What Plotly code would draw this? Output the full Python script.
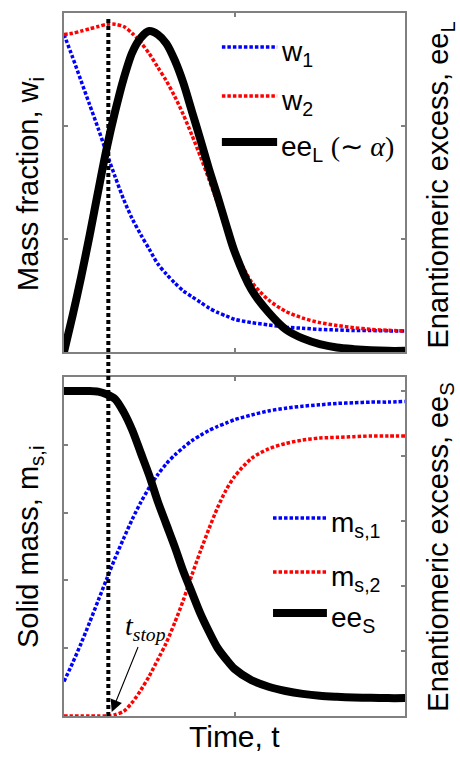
import plotly.graph_objects as go

# ---------------- data ----------------
t = [0, 0.05, 0.1, 0.15, 0.2, 0.25, 0.3, 0.35, 0.4, 0.45, 0.5, 0.55, 0.6, 0.65, 0.7,
     0.75, 0.8, 0.85, 0.9, 0.95, 1.0, 1.1, 1.2, 1.3, 1.4, 1.5, 1.6, 1.7, 1.8, 1.9, 2.0]

# top panel: mass fractions (left axis) and ee_L (right axis)
w1 = [2.81, 2.61, 2.40, 2.19, 1.98, 1.76, 1.55, 1.35, 1.18, 1.04, 0.91, 0.78, 0.69, 0.61, 0.54,
      0.49, 0.44, 0.39, 0.35, 0.32, 0.29, 0.26, 0.24, 0.22, 0.21, 0.20, 0.195, 0.19, 0.19, 0.187, 0.186]
w2 = [2.81, 2.82, 2.84, 2.86, 2.88, 2.90, 2.90, 2.88, 2.82, 2.74, 2.64, 2.52, 2.40, 2.26, 2.10,
      1.92, 1.73, 1.53, 1.32, 1.10, 0.90, 0.62, 0.46, 0.36, 0.30, 0.26, 0.235, 0.215, 0.20, 0.192, 0.186]
ee_L = [0, 0.064, 0.132, 0.206, 0.284, 0.36, 0.426, 0.484, 0.53, 0.556, 0.568, 0.562, 0.546, 0.516, 0.476,
        0.426, 0.376, 0.324, 0.276, 0.226, 0.178, 0.11, 0.07, 0.04, 0.024, 0.014, 0.008, 0.005, 0.003, 0.002, 0.002]

# bottom panel: solid masses (left axis) and ee_S (right axis)
ms1 = [0.51, 0.78, 1.07, 1.38, 1.70, 2.02, 2.33, 2.62, 2.90, 3.15, 3.37, 3.56, 3.72, 3.85, 3.96,
       4.06, 4.14, 4.21, 4.27, 4.32, 4.37, 4.44, 4.50, 4.54, 4.57, 4.59, 4.61, 4.62, 4.63, 4.63, 4.64]
ms2 = [0, 0, 0, 0, 0, 0, 0.02, 0.07, 0.20, 0.38, 0.59, 0.83, 1.08, 1.38, 1.71,
       2.08, 2.43, 2.76, 3.07, 3.33, 3.53, 3.80, 3.94, 4.02, 4.07, 4.10, 4.11, 4.12, 4.13, 4.13, 4.13]
ee_S = [1.0, 1.0, 1.0, 1.0, 0.998, 0.99, 0.975, 0.935, 0.88, 0.81, 0.74, 0.66, 0.59, 0.52, 0.445,
        0.38, 0.315, 0.26, 0.21, 0.175, 0.145, 0.11, 0.09, 0.077, 0.068, 0.062, 0.059, 0.057, 0.056, 0.055, 0.055]

T_STOP = 0.26

# ---------------- styling ----------------
BLUE = "#0000ff"
RED = "#ff0000"
GREY = "#808080"
FONT = "Liberation Sans, Arial, sans-serif"
SERIF = "Liberation Serif, Times New Roman, serif"
DOTS = "3.5px,2px"
DOT_W = 3.5
THICK_W = 8

fig = go.Figure()

def curve(y, color, xa, ya, dotted=True):
    if dotted:
        line = dict(color=color, width=DOT_W, dash=DOTS, shape="spline", smoothing=0.8)
    else:
        line = dict(color=color, width=THICK_W, shape="spline", smoothing=0.8)
    fig.add_trace(go.Scatter(x=t, y=y, mode="lines", line=line, xaxis=xa, yaxis=ya,
                             showlegend=False, hoverinfo="skip"))

curve(w1, BLUE, "x", "y")
curve(w2, RED, "x", "y")
curve(ee_L, "black", "x", "y2", dotted=False)
curve(ms1, BLUE, "x2", "y3")
curve(ms2, RED, "x2", "y3")
curve(ee_S, "black", "x2", "y4", dotted=False)

ax_common = dict(showline=True, linecolor=GREY, linewidth=2, ticks="inside", ticklen=4,
                 tickwidth=2, tickcolor=GREY, showticklabels=False, showgrid=False,
                 zeroline=False, layer="below traces")

TOP = [0.5178, 1.0]
BOT = [0.0, 0.4822]

fig.update_layout(
    width=460, height=757,
    margin=dict(l=64, r=55, t=13, b=41),
    paper_bgcolor="white", plot_bgcolor="white",
    font=dict(family=FONT, size=27, color="black"),
    xaxis=dict(domain=[0, 1], anchor="y", range=[0, 2], dtick=1, mirror="ticks", **ax_common),
    yaxis=dict(domain=TOP, anchor="x", range=[0, 3], dtick=1, mirror=True, **ax_common),
    yaxis2=dict(overlaying="y", side="right", anchor="x", range=[0, 0.6], dtick=0.2, **ax_common),
    xaxis2=dict(domain=[0, 1], anchor="y3", range=[0, 2], dtick=1, mirror="ticks", **ax_common),
    yaxis3=dict(domain=BOT, anchor="x2", range=[0, 5], dtick=1, mirror=True, **ax_common),
    yaxis4=dict(overlaying="y3", side="right", anchor="x2", range=[0, 1.043], dtick=0.2, **ax_common),
)

# vertical t_stop line spanning both panels
fig.add_shape(type="line", xref="x", yref="paper", x0=T_STOP, x1=T_STOP, y0=0.0, y1=0.994,
              line=dict(color="black", width=4, dash="4px,3px"), layer="above")

# manual legends
def legend_entry(x0, x1, y, color, text, dotted=True, size=28):
    fig.add_shape(type="line", xref="paper", yref="paper", x0=x0, x1=x1, y0=y, y1=y,
                  line=dict(color=color, width=DOT_W if dotted else THICK_W,
                            dash=DOTS if dotted else "solid"))
    fig.add_annotation(xref="paper", yref="paper", x=x1 + 0.006, y=y - 0.009, text=text,
                       showarrow=False, xanchor="left", yanchor="middle",
                       font=dict(size=size, family=FONT, color="black"))

legend_entry(0.463, 0.625, 0.9516, BLUE, "w<sub>1</sub>")
legend_entry(0.463, 0.625, 0.8819, RED, "w<sub>2</sub>")
legend_entry(0.463, 0.625, 0.8165, "black",
             "ee<sub>L</sub> <span style='font-family:Liberation Serif'>(∼ <i>α</i>)</span>", dotted=False)

legend_entry(0.613, 0.771, 0.2817, BLUE, "m<sub>s,1</sub>")
legend_entry(0.613, 0.771, 0.2048, RED, "m<sub>s,2</sub>")
legend_entry(0.613, 0.771, 0.1465, "black", "ee<sub>S</sub>", dotted=False)

# axis titles
def title(text, x, y, yanchor="middle", angle=-90, size=28):
    fig.add_annotation(xref="paper", yref="paper", x=x, y=y, text=text, showarrow=False,
                       textangle=angle, xanchor="center", yanchor=yanchor,
                       font=dict(size=size, family=FONT, color="black"))

title("Mass fraction, w<sub>i</sub>", -0.0997, 0.6017, yanchor="bottom", size=29)
title("Solid mass, m<sub>s,i</sub>", -0.0997, 0.0939, yanchor="bottom", size=29)
title("Enantiomeric excess, ee<sub>L</sub>", 1.1026, 0.5206, yanchor="bottom", size=29)
title("Enantiomeric excess, ee<sub>S</sub>", 1.1026, 0.004, yanchor="bottom", size=29)
title("Time, t", 0.5, -0.029, angle=0, size=30)

# t_stop annotation with arrow
fig.add_annotation(xref="x2", yref="y3", x=T_STOP + 0.02, y=0.06,
                   text="<i>t</i><sub><i>stop</i></sub>", showarrow=True,
                   ax=34, ay=-84, arrowhead=2, arrowsize=2.2, arrowwidth=1.1, arrowcolor="black",
                   font=dict(size=28, family=SERIF, color="black"))

fig.write_html("out.html")
